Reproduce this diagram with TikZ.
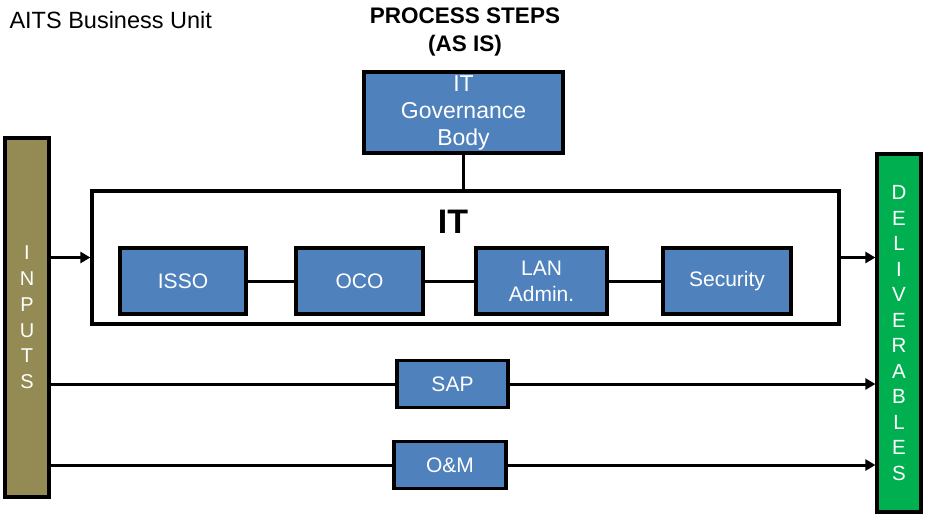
\documentclass[tikz,border=0pt]{standalone}
\usepackage{fontspec}
\setmainfont{Liberation Sans}
\usetikzlibrary{arrows.meta}
\definecolor{boxblue}{HTML}{4F81BD}
\definecolor{olivebar}{HTML}{948A54}
\definecolor{greenbar}{HTML}{00B050}
\tikzset{
  proc/.style={draw, line width=3.2pt, fill=boxblue, text=white, inner sep=0pt,
    align=center, font=\fontsize{21}{26}\selectfont},
  sidebar/.style={draw, line width=3.2pt, inner sep=0pt, text=white, align=center},
  frame/.style={draw, line width=3.2pt, inner sep=0pt},
  link/.style={line width=3pt},
  flow/.style={link, -{Triangle[length=10pt,width=11pt]}},
}
\begin{document}
\begin{tikzpicture}[x=1pt, y=-1pt]
\useasboundingbox (0,0) rectangle (925,517);

% headings
\node[anchor=west, font=\fontsize{23.5}{26}\selectfont] (unit) at (6,20) {AITS Business Unit};
\node[align=center, font=\bfseries\fontsize{22.5}{28}\selectfont] (title) at (465,32) {PROCESS STEPS\\(AS IS)};

% side bars
\node[sidebar, fill=olivebar, minimum width=44pt, minimum height=359pt,
      font=\fontsize{20}{25.8}\selectfont] (inputs) at (27,317.5)
      {I\\N\\P\\U\\T\\S};
\node[sidebar, fill=greenbar, minimum width=44pt, minimum height=358pt,
      font=\fontsize{20.5}{25.5}\selectfont] (deliv) at (899,333)
      {D\\E\\L\\I\\V\\E\\R\\A\\B\\L\\E\\S};

% governance body
\node[proc, minimum width=199pt, minimum height=81pt, font=\fontsize{23}{27}\selectfont]
      (gov) at (463.5,112.5) {IT\\Governance\\Body};

% IT group
\node[frame, minimum width=747pt, minimum height=133pt] (it) at (465.5,257.5) {};
\node[font=\bfseries\fontsize{34}{40}\selectfont] (itlabel) at (453,222) {IT};

\node[proc, minimum width=126pt, minimum height=66pt] (isso) at (183,281) {ISSO};
\node[proc, minimum width=127pt, minimum height=66pt] (oco) at (359.5,281) {OCO};
\node[proc, minimum width=131pt, minimum height=66pt] (lan) at (541.5,281) {LAN\\Admin.};
\node[proc, minimum width=128pt, minimum height=66pt] (sec) at (727,281) {Security};

% separate streams
\node[proc, minimum width=111pt, minimum height=47pt] (sap) at (452.5,384) {SAP};
\node[proc, minimum width=112pt, minimum height=47pt] (om) at (450,465) {O\&M};

% connectors
\draw[link] (gov.south) -- (gov.south |- it.north);
\draw[link] (isso) -- (oco);
\draw[link] (oco) -- (lan);
\draw[link] (lan) -- (sec);
\draw[flow] (inputs.east |- it.west) -- (it.west);
\draw[flow] (it.east) -- (deliv.west |- it.east);
\draw[link] (inputs.east |- sap.west) -- (sap.west);
\draw[flow] (sap.east) -- (deliv.west |- sap.east);
\draw[link] (inputs.east |- om.west) -- (om.west);
\draw[flow] (om.east) -- (deliv.west |- om.east);
\end{tikzpicture}
\end{document}
